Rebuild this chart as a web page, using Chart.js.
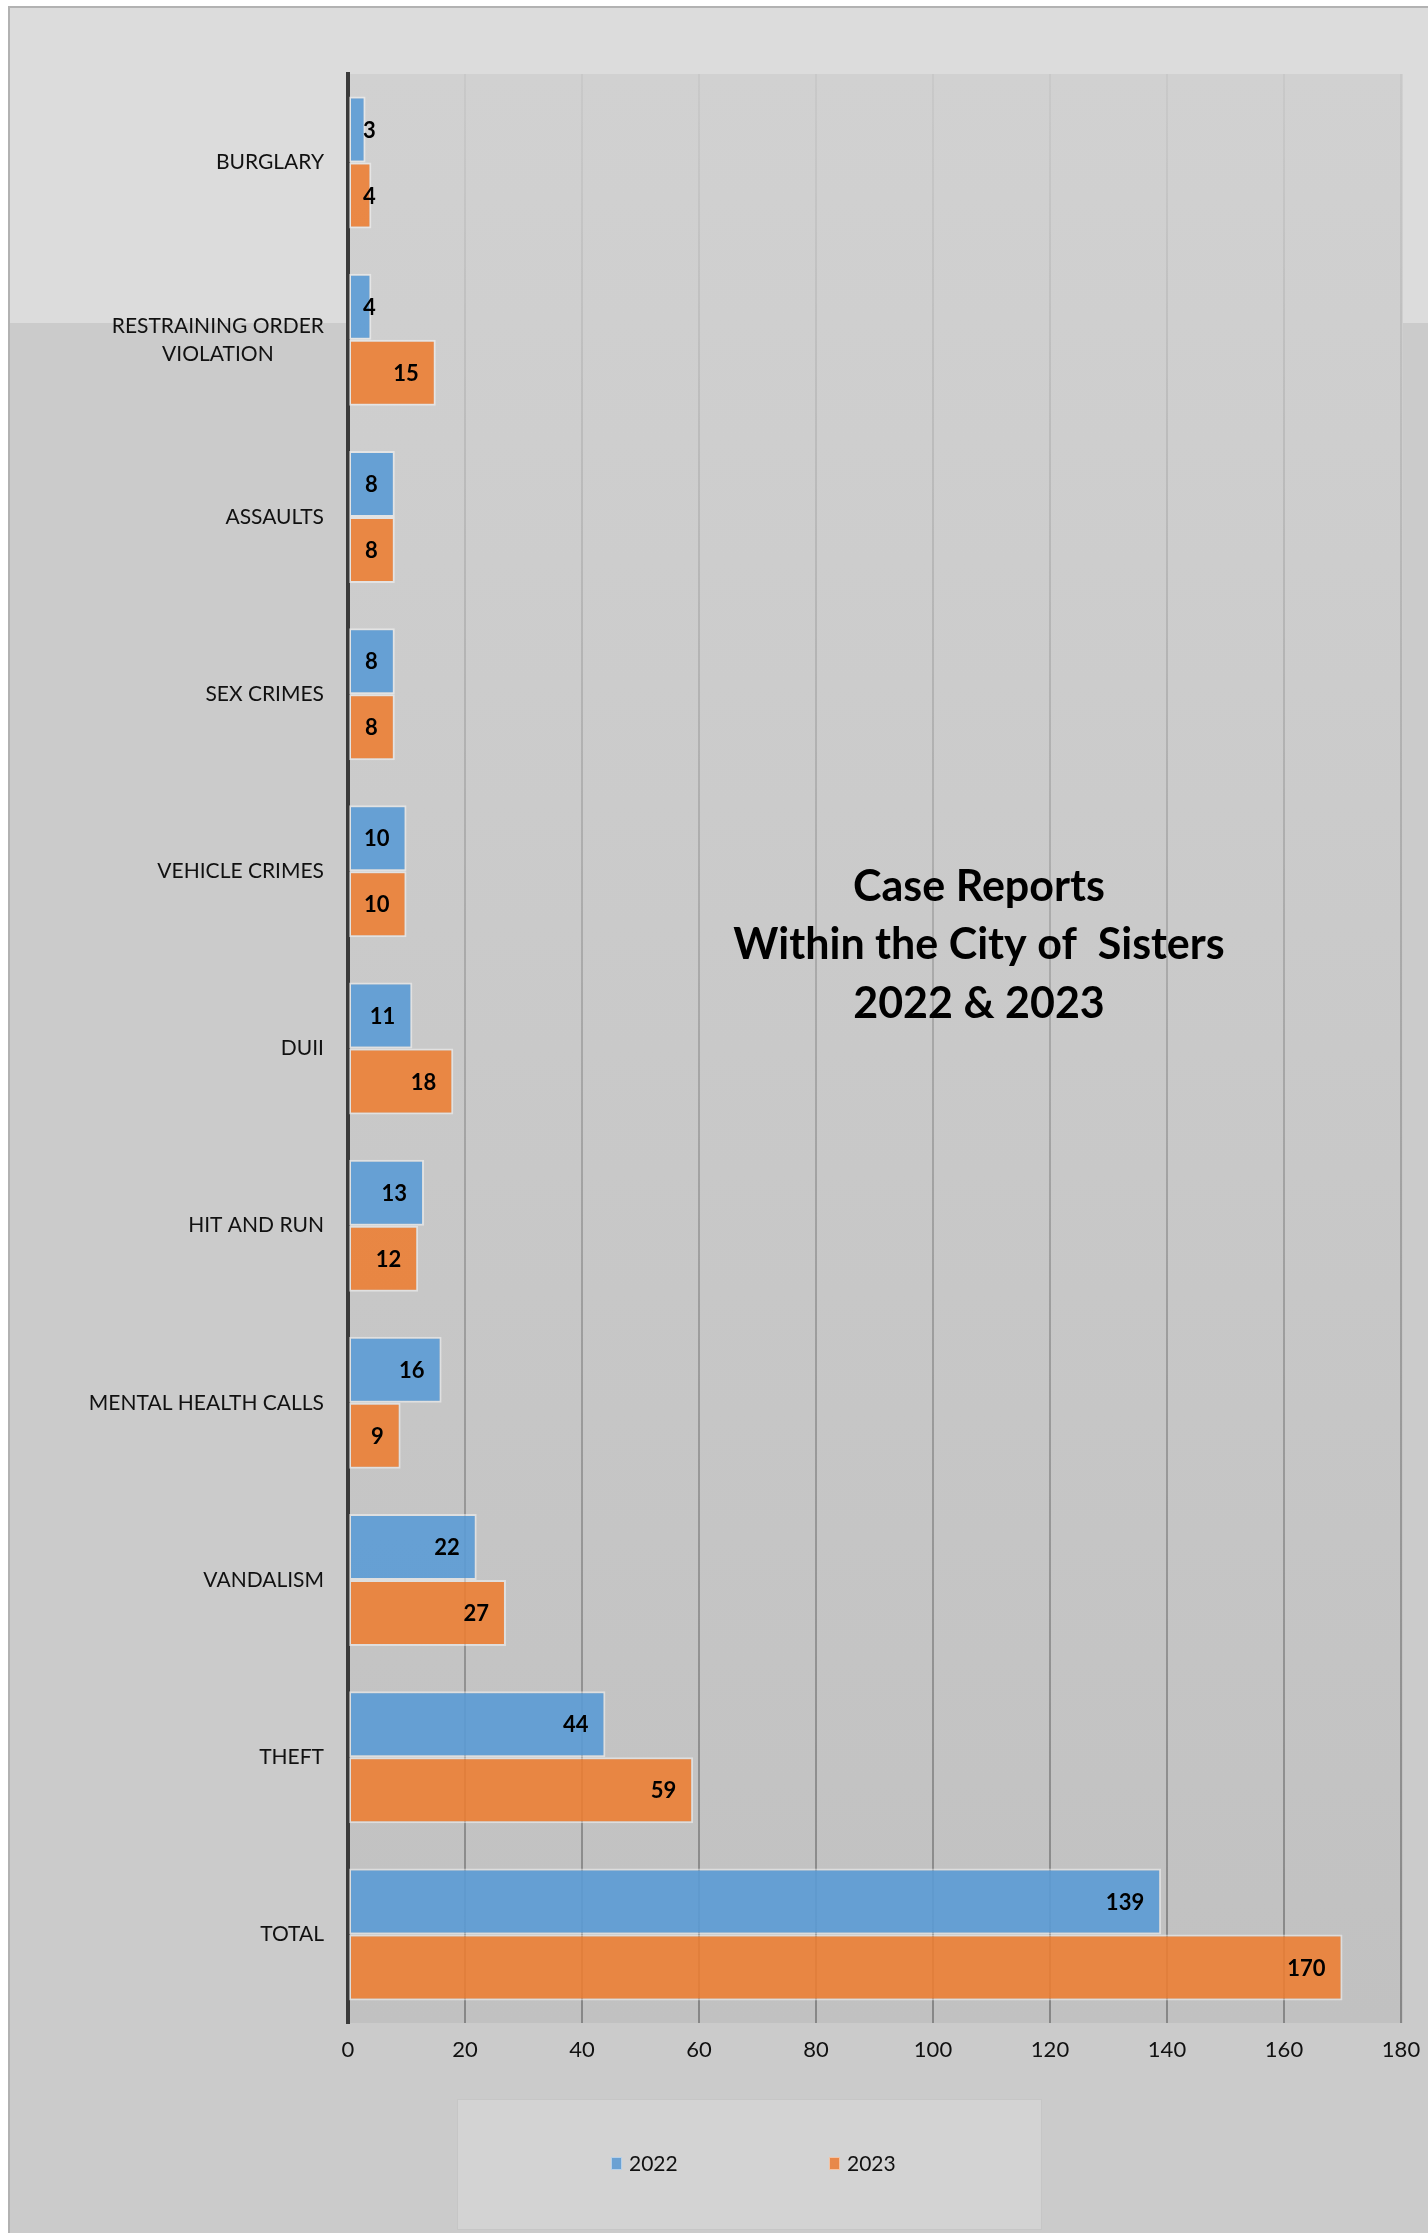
<!DOCTYPE html>
<html>
<head>
<meta charset="utf-8">
<script src="https://cdn.jsdelivr.net/npm/chart.js@4.4.1/dist/chart.umd.min.js"></script>
<style>
  html, body { margin: 0; padding: 0; background: #fff; }
  #wrap { width: 1428px; height: 2233px; }
</style>
</head>
<body>
<div id="wrap"><canvas id="grafica" width="1428" height="2233"></canvas></div>
<script>
"use strict";

const categorias = [
    ['BURGLARY'],
    ['RESTRAINING ORDER', 'VIOLATION'],
    ['ASSAULTS'],
    ['SEX CRIMES'],
    ['VEHICLE CRIMES'],
    ['DUII'],
    ['HIT AND RUN'],
    ['MENTAL HEALTH CALLS'],
    ['VANDALISM'],
    ['THEFT'],
    ['TOTAL']
];
const valores2022 = [3, 4, 8, 8, 10, 11, 13, 16, 22, 44, 139];
const valores2023 = [4, 15, 8, 8, 10, 18, 12, 9, 27, 59, 170];
const series = ['2022', '2023'];
const tituloLineas = ['Case Reports', 'Within the City of  Sisters', '2022 & 2023'];
const ejeMax = 180;
const ejePaso = 20;

const FUENTE = 'Lato, "Open Sans", sans-serif';
const colores = ['rgba(91, 155, 213, 0.9)', 'rgba(237, 125, 49, 0.88)'];
const coloresLeyenda = ['#6aa1d3', '#e8884a'];

// fondo: marco, bandas y area de trazado con degradado
const fondo = {
    id: 'fondo',
    beforeDraw(chart) {
        const ctx = chart.ctx;
        const a = chart.chartArea;
        ctx.save();
        ctx.fillStyle = '#ffffff';
        ctx.fillRect(0, 0, chart.width, chart.height);
        ctx.fillStyle = '#cbcbcb';
        ctx.fillRect(10, 8, chart.width - 10, chart.height - 8);
        ctx.fillStyle = '#dcdcdc';
        ctx.fillRect(10, 8, chart.width - 10, 315);
        ctx.strokeStyle = '#b2b2b2';
        ctx.lineWidth = 2;
        ctx.beginPath();
        ctx.moveTo(9, chart.height);
        ctx.lineTo(9, 7);
        ctx.lineTo(chart.width, 7);
        ctx.stroke();
        const g = ctx.createLinearGradient(0, a.top, 0, a.bottom);
        g.addColorStop(0, '#d1d1d1');
        g.addColorStop(1, '#c1c1c1');
        ctx.fillStyle = g;
        ctx.fillRect(a.left, a.top, a.right - a.left + 2, a.bottom - a.top);
        ctx.restore();
    }
};

// etiquetas de categoria centradas por bloque
const etiquetasY = {
    id: 'etiquetasY',
    afterDraw(chart) {
        const ctx = chart.ctx;
        const y = chart.scales.y;
        ctx.save();
        ctx.font = '21px ' + FUENTE;
        ctx.fillStyle = '#111';
        ctx.textBaseline = 'middle';
        ctx.textAlign = 'center';
        categorias.forEach(function (lineas, i) {
            const cy = y.getPixelForTick(i);
            const ancho = Math.max.apply(null, lineas.map(l => ctx.measureText(l).width));
            const cx = 324 - ancho / 2;
            const alto = 28;
            lineas.forEach(function (l, j) {
                ctx.fillText(l, cx, cy + (j - (lineas.length - 1) / 2) * alto);
            });
        });
        ctx.restore();
    }
};

// valores dentro del extremo de cada barra
const valoresBarras = {
    id: 'valoresBarras',
    afterDatasetsDraw(chart) {
        const ctx = chart.ctx;
        const a = chart.chartArea;
        ctx.save();
        ctx.font = 'bold 22px ' + FUENTE;
        ctx.fillStyle = '#000';
        ctx.textBaseline = 'middle';
        ctx.textAlign = 'right';
        chart.data.datasets.forEach(function (ds, i) {
            chart.getDatasetMeta(i).data.forEach(function (bar, j) {
                const txt = String(ds.data[j]);
                const w = ctx.measureText(txt).width;
                const x = Math.max(bar.x - 17, a.left + 15 + w);
                ctx.fillText(txt, x, bar.y + 1);
            });
        });
        ctx.restore();
    }
};

// titulo y leyenda
const tituloLeyenda = {
    id: 'tituloLeyenda',
    afterDraw(chart) {
        const ctx = chart.ctx;
        ctx.save();
        ctx.fillStyle = '#000';
        ctx.font = 'bold 43px ' + FUENTE;
        ctx.textAlign = 'center';
        ctx.textBaseline = 'middle';
        const ys = [887, 945, 1004];
        tituloLineas.forEach((l, i) => ctx.fillText(l, 979, ys[i]));

        ctx.fillStyle = '#d3d3d3';
        ctx.fillRect(457, 2099, 584, 130);
        ctx.strokeStyle = '#c6c6c6';
        ctx.lineWidth = 1;
        ctx.strokeRect(457.5, 2099.5, 584, 130);
        ctx.font = '21px ' + FUENTE;
        ctx.textAlign = 'left';
        const xs = [611, 829];
        series.forEach(function (s, i) {
            ctx.fillStyle = coloresLeyenda[i];
            ctx.fillRect(xs[i], 2157, 11, 13);
            ctx.strokeStyle = 'rgba(255,255,255,0.5)';
            ctx.strokeRect(xs[i] + 0.5, 2157.5, 10, 12);
            ctx.fillStyle = '#111';
            ctx.fillText(s, xs[i] + 18, 2164);
        });
        ctx.restore();
    }
};

function colorRejilla(c) {
    const chart = c.chart;
    const a = chart.chartArea;
    if (!a) return 'rgba(0,0,0,0.2)';
    const g = chart.ctx.createLinearGradient(0, a.top, 0, a.bottom);
    g.addColorStop(0, 'rgba(0,0,0,0.04)');
    g.addColorStop(1, 'rgba(0,0,0,0.3)');
    return g;
}

new Chart(document.getElementById('grafica').getContext('2d'), {
    type: 'bar',
    data: {
        labels: categorias,
        datasets: [{
            label: series[0],
            data: valores2022,
            backgroundColor: colores[0],
            borderColor: 'rgba(255,255,255,0.45)',
            borderWidth: 2,
            borderSkipped: false
        }, {
            label: series[1],
            data: valores2023,
            backgroundColor: colores[1],
            borderColor: 'rgba(255,255,255,0.45)',
            borderWidth: 2,
            borderSkipped: false
        }]
    },
    options: {
        indexAxis: 'y',
        responsive: false,
        animation: false,
        categoryPercentage: 0.745,
        barPercentage: 1.0,
        layout: { padding: { top: 74, right: 27, left: 0, bottom: 0 } },
        plugins: {
            legend: { display: false },
            title: { display: false },
            tooltip: { enabled: false }
        },
        scales: {
            x: {
                min: 0,
                max: ejeMax,
                ticks: {
                    stepSize: ejePaso,
                    color: '#111',
                    font: { family: FUENTE, size: 22 },
                    padding: 14
                },
                grid: {
                    color: colorRejilla,
                    lineWidth: 2,
                    drawTicks: false
                },
                border: { display: false },
                afterFit(scale) {
                    scale.height = 210;
                    scale.paddingLeft = 0;
                    scale.paddingRight = 0;
                }
            },
            y: {
                ticks: { display: false },
                grid: { display: false },
                border: { display: true, color: '#3a3a3a', width: 4 },
                afterFit(scale) {
                    scale.width = 348;
                    scale.paddingTop = 0;
                    scale.paddingBottom = 0;
                }
            }
        }
    },
    plugins: [fondo, valoresBarras, etiquetasY, tituloLeyenda]
});
</script>
</body>
</html>
